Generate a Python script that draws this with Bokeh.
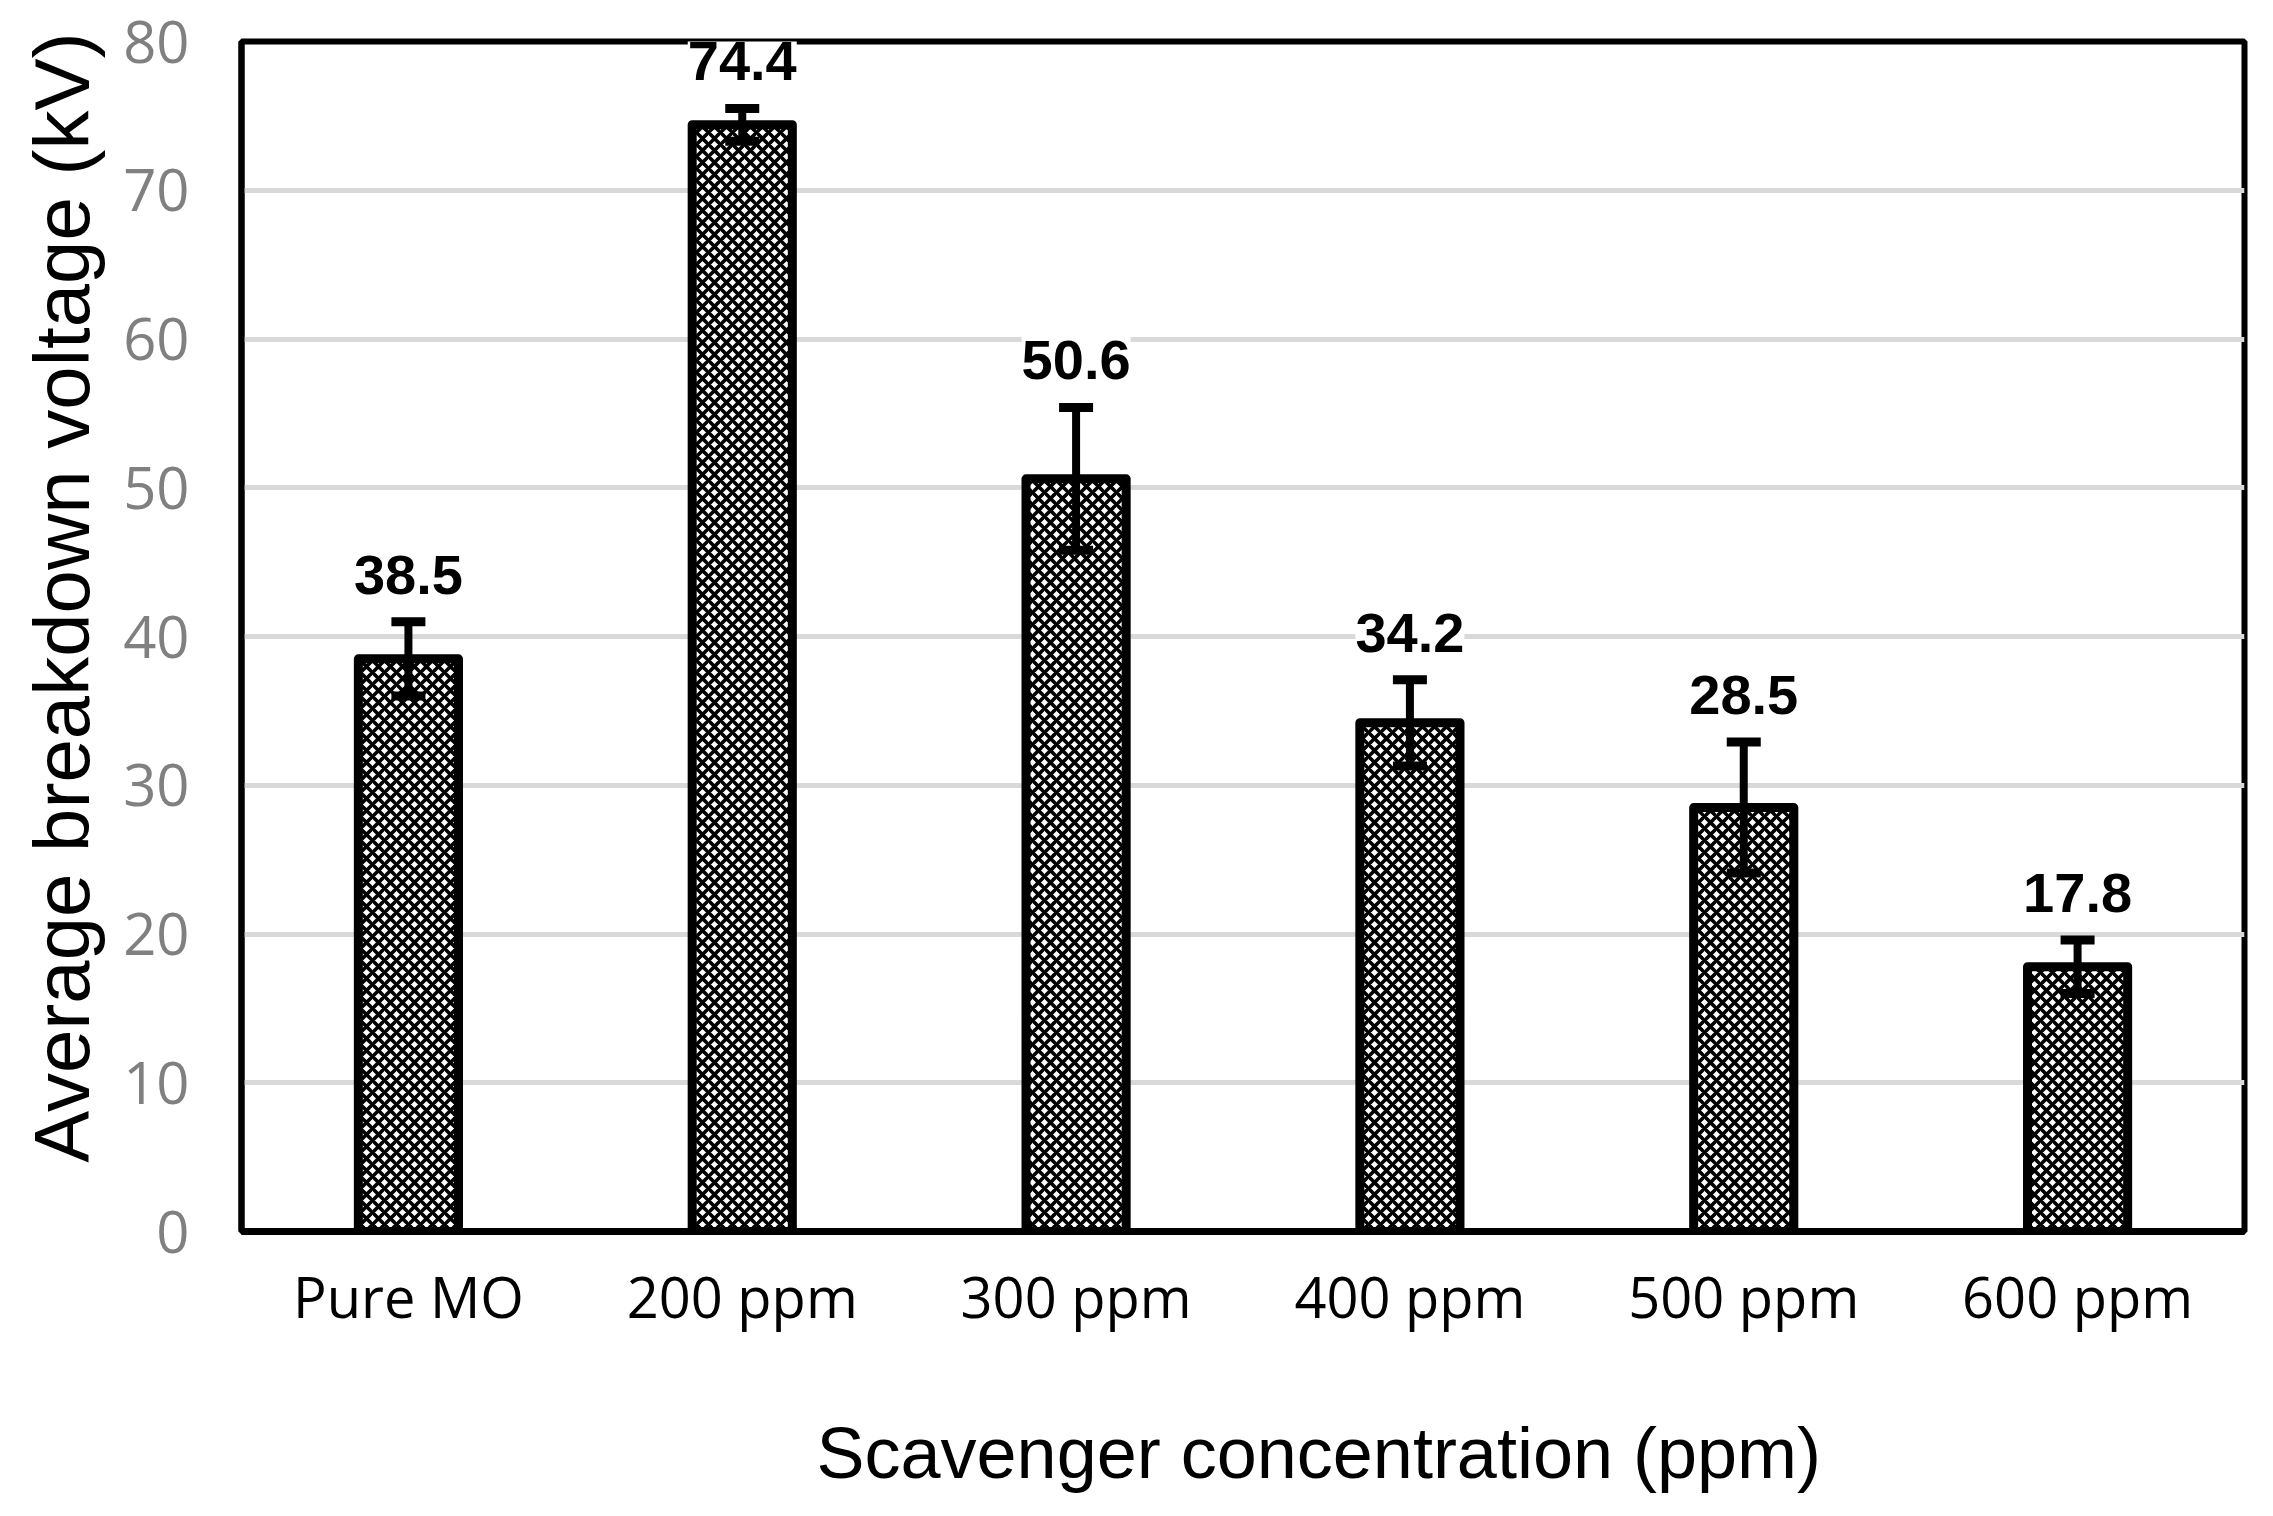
from bokeh.plotting import figure
from bokeh.models import (ColumnDataSource, Whisker, TeeHead, Label, FactorRange,
                          Range1d, SingleIntervalTicker, Title)
from bokeh.embed import file_html
from bokeh.resources import INLINE

categories = ["Pure MO", "200 ppm", "300 ppm", "400 ppm", "500 ppm", "600 ppm"]
voltage = [38.5, 74.4, 50.6, 34.2, 28.5, 17.8]
error = [2.5, 1.1, 4.8, 2.9, 4.4, 1.8]
value_labels = ["38.5", "74.4", "50.6", "34.2", "28.5", "17.8"]
x_title = "Scavenger concentration (ppm)"
y_title = "Average breakdown voltage (kV)"

upper = [v + e for v, e in zip(voltage, error)]
lower = [v - e for v, e in zip(voltage, error)]

src = ColumnDataSource(dict(cat=categories, v=voltage, upper=upper, lower=lower,
                            label=value_labels))

p = figure(x_range=FactorRange(*categories, range_padding=0), y_range=Range1d(0, 80),
           width=2257, height=1500, output_backend="svg", toolbar_location=None,
           min_border_left=241, min_border_right=13, min_border_top=41,
           min_border_bottom=269)

p.background_fill_color = "white"
p.border_fill_color = "white"
p.outline_line_color = "black"
p.outline_line_width = 6

p.vbar(x="cat", top="v", bottom=0, width=0.30, source=src,
       fill_color="white", hatch_pattern="diagonal_cross", hatch_color="black",
       hatch_weight=3.6, hatch_scale=12,
       line_color="black", line_width=9, line_join="round")

w = Whisker(source=src, base="cat", upper="upper", lower="lower",
            line_color="black", line_width=8, level="annotation",
            upper_head=TeeHead(size=34, line_width=9, line_color="black"),
            lower_head=TeeHead(size=34, line_width=9, line_color="black"))
p.add_layout(w)

# value labels: categorical factor i sits at synthetic coordinate i + 0.5
for i, (u, t) in enumerate(zip(upper, value_labels)):
    p.add_layout(Label(x=i + 0.5, y=u, text=t, y_offset=8, text_align="center",
                       text_baseline="bottom", text_font="Liberation Sans",
                       text_font_style="bold", text_font_size="56px",
                       text_color="black", background_fill_color="white",
                       padding=(0, 20)))

# grid
p.xgrid.grid_line_color = None
p.ygrid.grid_line_color = "#d9d9d9"
p.ygrid.grid_line_width = 5
p.yaxis.ticker = SingleIntervalTicker(interval=10)

# y axis
p.yaxis.axis_line_color = "black"
p.yaxis.axis_line_width = 6
p.yaxis.major_tick_out = 0
p.yaxis.major_tick_in = 0
p.yaxis.minor_tick_line_color = None
p.yaxis.major_label_text_font = "Open Sans"
p.yaxis.major_label_text_font_size = "58px"
p.yaxis.major_label_text_color = "#808080"
p.yaxis.major_label_standoff = 48

# x axis
p.xaxis.axis_line_color = "black"
p.xaxis.axis_line_width = 7
p.xaxis.major_tick_out = 0
p.xaxis.major_tick_in = 0
p.xaxis.minor_tick_line_color = None
p.xaxis.major_label_text_font = "Open Sans"
p.xaxis.major_label_text_font_size = "56px"
p.xaxis.major_label_text_color = "black"
p.xaxis.major_label_standoff = 26

# spacer between the x tick labels and the x title
p.add_layout(Title(text=" ", text_font_size="2px", standoff=72), "below")
# axis titles (offset from centre as in the reference)
p.add_layout(Title(text=x_title, align="left", vertical_align="top", offset=575,
                   standoff=0, text_font="Liberation Sans", text_font_style="normal",
                   text_font_size="72px", text_color="black"), "below")
p.add_layout(Title(text=y_title, align="right", offset=-9, standoff=30,
                   text_font="Liberation Sans", text_font_style="normal",
                   text_font_size="78px", text_color="black"), "left")

open("out.html", "w").write(file_html(p, INLINE))
